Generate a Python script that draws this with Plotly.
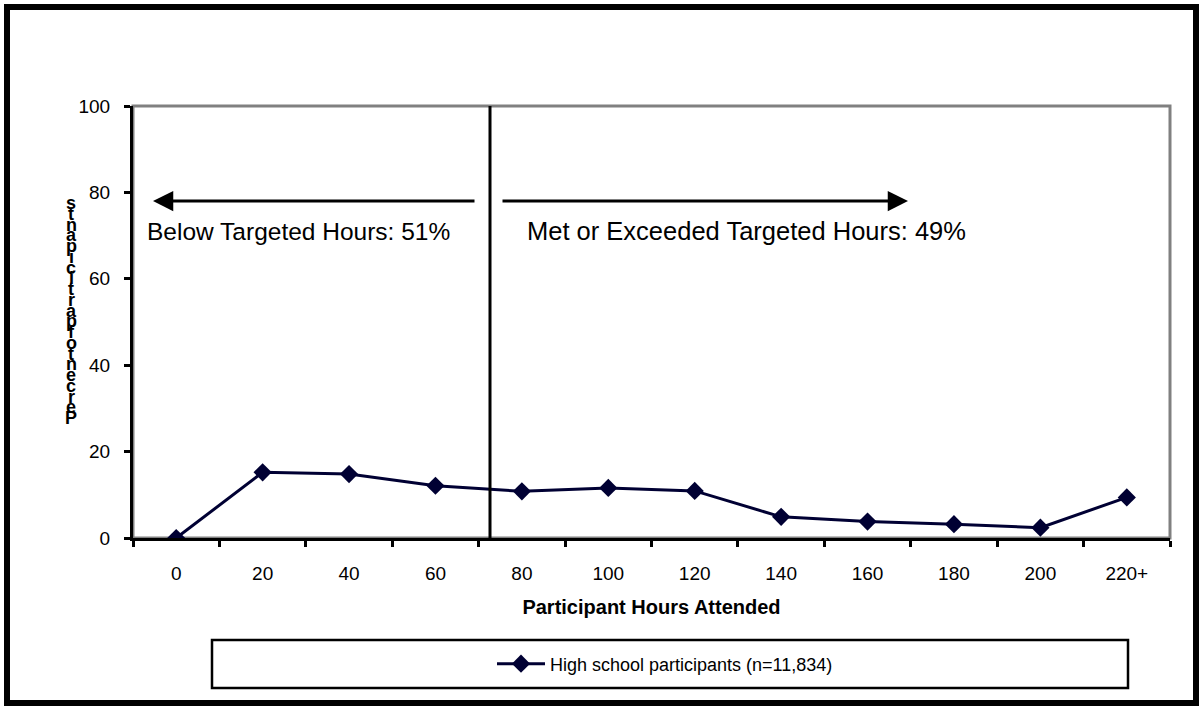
import plotly.graph_objects as go

# ---- data ----
categories = ["0", "20", "40", "60", "80", "100", "120", "140", "160", "180", "200", "220+"]
values = [0, 15.2, 14.8, 12.1, 10.8, 11.6, 10.9, 4.9, 3.8, 3.2, 2.4, 9.4]
series_name = "High school participants (n=11,834)"
y_ticks = [0, 20, 40, 60, 80, 100]
x_title = "Participant Hours Attended"
y_title = "Percent of participants"
left_label = "Below Targeted Hours: 51%"
right_label = "Met or Exceeded Targeted Hours: 49%"

W, H = 1199, 706
L, R, T, B = 133, 1170, 106, 538
FONT = "Arial, Liberation Sans, sans-serif"


def px(x):
    return (x - L) / (R - L)


def py(y):
    return (B - y) / (B - T)


fig = go.Figure()
fig.add_trace(go.Scatter(
    x=categories, y=values, mode="lines+markers", name=series_name,
    line=dict(color="#000033", width=3),
    marker=dict(symbol="diamond", size=14, color="#000033"),
))

shapes = [
    # plot frame (grey top/right)
    dict(type="rect", xref="paper", yref="paper", x0=0, x1=1, y0=0, y1=1,
         line=dict(color="#808080", width=3), layer="below"),
    # divider line
    dict(type="line", xref="paper", yref="paper", x0=px(490), x1=px(490), y0=0, y1=1,
         line=dict(color="black", width=3)),
    # outer border
    dict(type="rect", xref="paper", yref="paper", x0=px(7), x1=px(1196), y0=py(7), y1=py(703),
         line=dict(color="black", width=6)),
    # legend box
    dict(type="rect", xref="paper", yref="paper", x0=px(212), x1=px(1128), y0=py(640), y1=py(688),
         line=dict(color="black", width=2.5)),
]

annotations = [
    dict(x=px(153), y=py(201), xref="paper", yref="paper", ax=323, ay=0, axref="pixel", ayref="pixel",
         text="", showarrow=True, arrowhead=2, arrowwidth=3, arrowsize=1.35, arrowcolor="black", standoff=0),
    dict(x=px(908), y=py(201), xref="paper", yref="paper", ax=-407, ay=0, axref="pixel", ayref="pixel",
         text="", showarrow=True, arrowhead=2, arrowwidth=3, arrowsize=1.35, arrowcolor="black", standoff=0),
    dict(x=px(145), y=py(231), xref="paper", yref="paper", xanchor="left", yanchor="middle",
         text=left_label, showarrow=False, font=dict(family=FONT, size=24.5, color="black")),
    dict(x=px(525), y=py(231), xref="paper", yref="paper", xanchor="left", yanchor="middle",
         text=right_label, showarrow=False, font=dict(family=FONT, size=25.5, color="black")),
]

# stacked y-axis title letters (bottom-to-top)
letters = [c for c in y_title if c != " "]
y_bottom, y_top = 418, 203
step = (y_bottom - y_top) / (len(letters) - 1)
for i, ch in enumerate(letters):
    annotations.append(dict(x=px(71), y=py(y_bottom - i * step), xref="paper", yref="paper",
                            text=ch, showarrow=False, xanchor="center", yanchor="middle",
                            font=dict(family=FONT, size=18, color="black", weight="bold")))

fig.update_layout(
    width=W, height=H,
    margin=dict(l=L, r=W - R, t=T, b=H - B),
    paper_bgcolor="white", plot_bgcolor="white",
    showlegend=True,
    legend=dict(orientation="h", x=px(665), y=py(664), xanchor="center", yanchor="middle",
                bgcolor="rgba(0,0,0,0)", borderwidth=0, itemwidth=48,
                font=dict(family=FONT, size=18, color="black")),
    shapes=shapes,
    annotations=annotations,
    xaxis=dict(
        type="category", categoryorder="array", categoryarray=categories,
        showline=True, linecolor="black", linewidth=3,
        ticks="outside", tickson="boundaries", ticklen=6, tickwidth=3, tickcolor="black",
        showgrid=False, zeroline=False,
        tickfont=dict(family=FONT, size=19, color="black"),
        ticklabelstandoff=16,
        title=dict(text=x_title, standoff=18,
                   font=dict(family=FONT, size=20, color="black", weight="bold")),
        range=[-0.5, len(categories) - 0.5],
    ),
    yaxis=dict(
        range=[0, 100], tickvals=y_ticks,
        showline=True, linecolor="black", linewidth=3,
        ticks="outside", ticklen=6, tickwidth=3, tickcolor="black",
        showgrid=False, zeroline=False,
        tickfont=dict(family=FONT, size=19, color="black"),
        ticklabelstandoff=10,
    ),
)

fig.write_html("out.html", config={"displayModeBar": False},
               post_script="document.body.style.margin='0';document.body.style.padding='0';")
